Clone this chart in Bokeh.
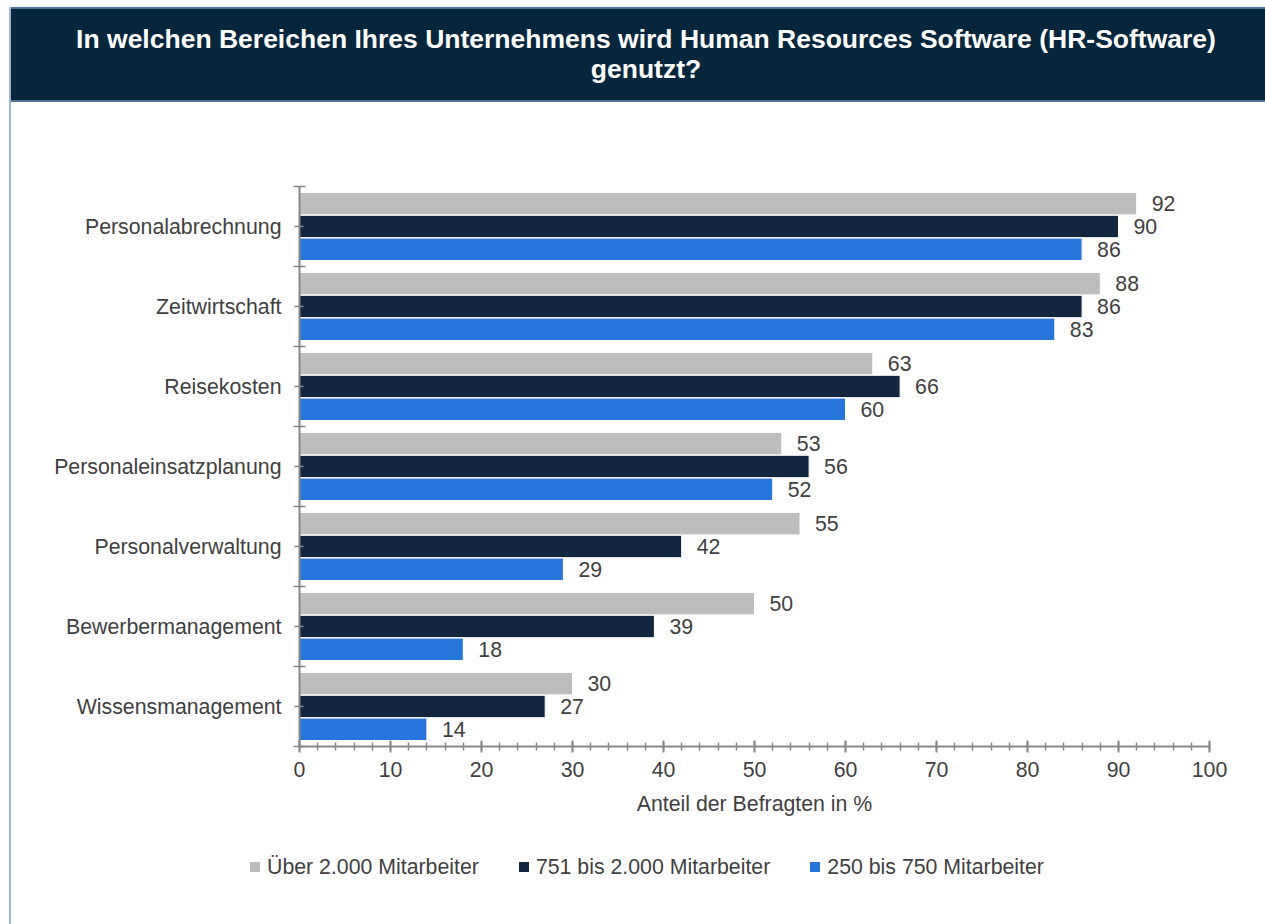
from bokeh.plotting import figure
from bokeh.models import (FixedTicker, Range1d, ColumnDataSource, LabelSet, Div)
from bokeh.layouts import column, row
from bokeh.core.properties import value
from bokeh.embed import file_html
from bokeh.resources import INLINE

categories = ["Personalabrechnung", "Zeitwirtschaft", "Reisekosten",
              "Personaleinsatzplanung", "Personalverwaltung",
              "Bewerbermanagement", "Wissensmanagement"]
series_names = ["Über 2.000 Mitarbeiter", "751 bis 2.000 Mitarbeiter",
                "250 bis 750 Mitarbeiter"]
over_2000 = [92, 88, 63, 53, 55, 50, 30]
from_751_to_2000 = [90, 86, 66, 56, 42, 39, 27]
from_250_to_750 = [86, 83, 60, 52, 29, 18, 14]
x_ticks = [0, 10, 20, 30, 40, 50, 60, 70, 80, 90, 100]
title_lines = ["In welchen Bereichen Ihres Unternehmens wird Human Resources Software (HR-Software)",
               "genutzt?"]
x_label = "Anteil der Befragten in %"

colors = ["#BDBDBD", "#12263F", "#2776DB"]
FONT = "Liberation Sans"
FS = "21.3px"
TXT = "#404040"
AX = "#888888"

# ---- left page border strip
strip = Div(text='<div style="margin:7px 0 0 9px;width:2px;height:917px;background:#9DB8D3;"></div>',
            width=11, height=924, margin=0)

# ---- title banner
banner_html = ('<div style="margin-top:7px;width:1254px;height:95px;box-sizing:border-box;'
               'background:#06263E;border:2px solid #4F7395;border-left:none;border-right:none;color:#ffffff;'
               "font-family:'Liberation Sans';font-weight:bold;font-size:26.5px;line-height:30px;"
               'text-align:center;padding:15px 0 0 16px;white-space:nowrap;">'
               + "<br>".join(title_lines) + "</div>")
banner = Div(text=banner_html, width=1254, height=102, margin=0)

# ---- main chart
n = len(categories)
centers = [n - i - 0.5 for i in range(n)]
boundaries = [float(k) for k in range(n + 1)]

p = figure(width=1254, height=730, x_range=Range1d(0, 100), y_range=Range1d(0, n),
           output_backend="svg", toolbar_location=None,
           min_border_left=288, min_border_right=56,
           min_border_top=84, min_border_bottom=86, margin=0)
p.outline_line_color = None
p.background_fill_color = "white"
p.border_fill_color = "white"
p.xgrid.visible = False
p.ygrid.visible = False

all_series = [over_2000, from_751_to_2000, from_250_to_750]
offsets = [0.285, 0.0, -0.285]
for vals, off, col in zip(all_series, offsets, colors):
    src = ColumnDataSource(dict(y=[c + off for c in centers], v=vals,
                                lab=[str(v) for v in vals]))
    p.hbar(y="y", right="v", left=0, height=0.28, source=src,
           fill_color=col, line_color="white", line_width=1)
    p.add_layout(LabelSet(x="v", y="y", text="lab", source=src, x_offset=15,
                          text_baseline="middle", text_align="left",
                          text_font=value(FONT), text_font_size=FS, text_color=TXT))

# x axis
xa = p.xaxis[0]
xa.ticker = FixedTicker(ticks=x_ticks, minor_ticks=list(range(0, 101, 2)))
xa.axis_line_color = AX
xa.axis_line_width = 2
xa.major_tick_line_color = AX
xa.major_tick_line_width = 2
xa.minor_tick_line_color = AX
xa.minor_tick_line_width = 1.5
xa.major_tick_in = 6
xa.major_tick_out = 6
xa.minor_tick_in = 4
xa.minor_tick_out = 4
xa.major_label_text_font = FONT
xa.major_label_text_font_size = FS
xa.major_label_text_color = TXT
xa.major_label_standoff = 9
xa.axis_label = x_label
xa.axis_label_text_font = FONT
xa.axis_label_text_font_size = FS
xa.axis_label_text_font_style = "normal"
xa.axis_label_text_color = TXT
xa.axis_label_standoff = 12

# y axis
ya = p.yaxis[0]
ya.ticker = FixedTicker(ticks=centers, minor_ticks=boundaries)
ya.major_label_overrides = {c: name for c, name in zip(centers, categories)}
ya.axis_line_color = AX
ya.axis_line_width = 2
ya.major_tick_line_color = AX
ya.major_tick_line_width = 1.5
ya.minor_tick_line_color = AX
ya.minor_tick_line_width = 1.5
ya.major_tick_in = 4
ya.major_tick_out = 5
ya.minor_tick_in = 6
ya.minor_tick_out = 6
ya.major_label_text_font = FONT
ya.major_label_text_font_size = FS
ya.major_label_text_color = TXT
ya.major_label_standoff = 12

# ---- legend row
items_html = []
for i, (name, col) in enumerate(zip(series_names, colors)):
    gap = "0" if i == 0 else "40px"
    items_html.append(
        f'<span style="display:flex;align-items:center;margin-left:{gap};">'
        f'<span style="display:inline-block;width:10px;height:10px;background:{col};margin-right:7px;"></span>'
        f'<span>{name}</span></span>')
legend_html = ('<div style="display:flex;align-items:center;height:24px;margin:23px 0 0 239px;'
               f"font-family:'Liberation Sans';font-size:{FS};line-height:24px;color:{TXT};white-space:nowrap;\">"
               + "".join(items_html) + "</div>")
legend_div = Div(text=legend_html, width=1254, height=92, margin=0)

layout = row(strip, column(banner, p, legend_div, spacing=0), spacing=0)
open("out.html", "w").write(file_html(layout, INLINE))
